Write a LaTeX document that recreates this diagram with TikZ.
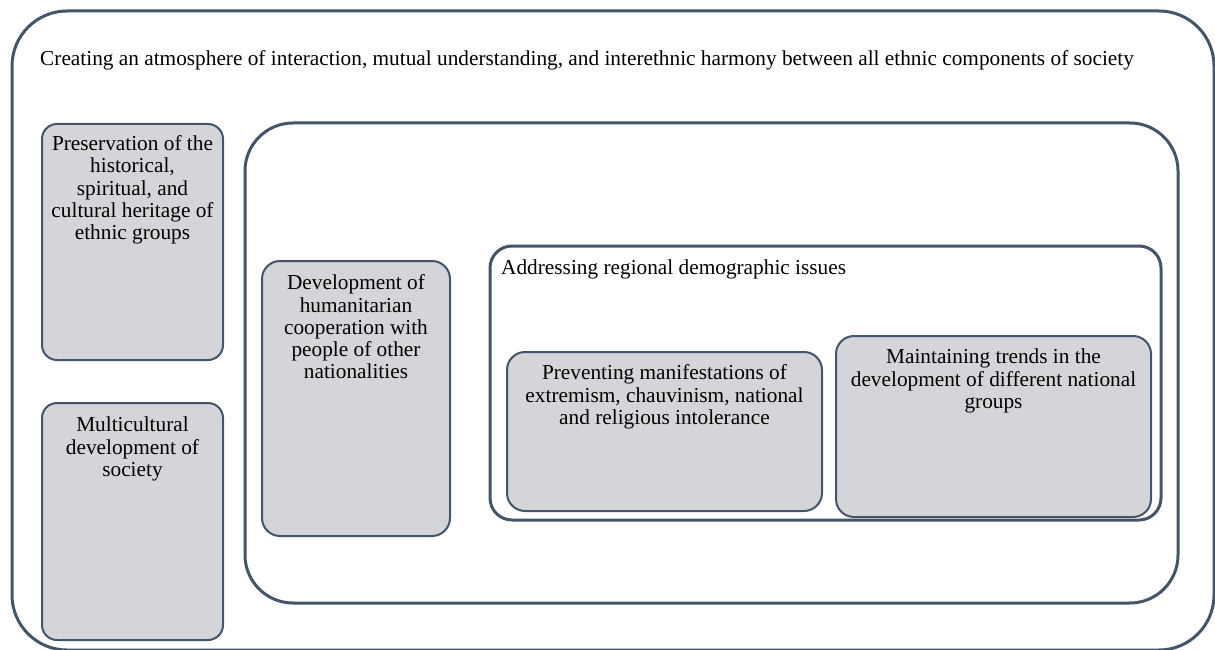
\documentclass[tikz,border=0pt]{standalone}
\usepackage{fontspec}
\setmainfont{Liberation Serif}
\definecolor{edge}{HTML}{44546A}
\definecolor{boxfill}{HTML}{D3D5D9}
\begin{document}
\begin{tikzpicture}[x=1pt,y=-1pt,
  frame/.style={draw=edge, line width=3pt, rectangle, inner sep=0pt},
  greybox/.style={draw=edge, line width=2pt, fill=boxfill, rectangle, inner sep=0pt},
  txt/.style={inner sep=0pt, align=center, font=\fontsize{21.3}{22.3}\selectfont},
  ltxt/.style={inner sep=0pt, font=\fontsize{21.3}{22.3}\selectfont}]
\useasboundingbox (0,0) rectangle (1215,650);
% outer frame
\node[frame, rounded corners=55pt, minimum width=1202pt, minimum height=639pt] (outer) at (613,330.5) {};
\node[ltxt, anchor=base west] (title) at (40,66) {Creating an atmosphere of interaction, mutual understanding, and interethnic harmony between all ethnic components of society};
% left boxes
\node[greybox, rounded corners=15pt, minimum width=181pt, minimum height=236pt] (pres) at (132.5,242) {};
\node[txt, anchor=north] (prest) at (132.5,135.5) {Preservation of the\\historical,\\spiritual, and\\cultural heritage of\\ethnic groups};
\node[greybox, rounded corners=15pt, minimum width=181pt, minimum height=237pt] (multi) at (132.5,521.5) {};
\node[txt, anchor=north] (multit) at (132.5,417) {Multicultural\\development of\\society};
% middle frame
\node[frame, rounded corners=48pt, minimum width=933pt, minimum height=480pt] (mid) at (711.5,363) {};
\node[greybox, rounded corners=18pt, minimum width=188pt, minimum height=275pt] (dev) at (356,398.5) {};
\node[txt, anchor=north] (devt) at (356,274.5) {Development of\\humanitarian\\cooperation with\\people of other\\nationalities};
% addressing frame
\node[frame, rounded corners=22pt, minimum width=671pt, minimum height=274pt] (addr) at (825.5,383) {};
\node[ltxt, anchor=base west] (addrt) at (501,274) {Addressing regional demographic issues};
\node[greybox, rounded corners=18pt, minimum width=315pt, minimum height=159pt] (prev) at (664.5,431.5) {};
\node[txt, anchor=north] (prevt) at (664.5,364.5) {Preventing manifestations of\\extremism, chauvinism, national\\and religious intolerance};
\node[greybox, rounded corners=18pt, minimum width=315pt, minimum height=181pt] (main) at (993.5,426.5) {};
\node[txt, anchor=north] (maint) at (993.5,349) {Maintaining trends in the\\development of different national\\groups};
\end{tikzpicture}
\end{document}
